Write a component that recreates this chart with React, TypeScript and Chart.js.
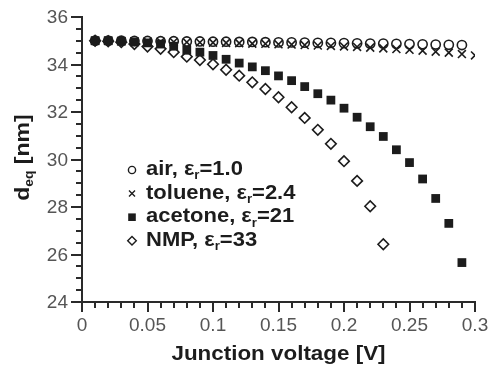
import React, { useEffect, useRef } from 'react';
import { Chart, registerables } from 'chart.js';

Chart.register(...registerables);

// ---- data ----
const voltage = [
  0.01, 0.02, 0.03, 0.04, 0.05, 0.06, 0.07, 0.08, 0.09, 0.1,
  0.11, 0.12, 0.13, 0.14, 0.15, 0.16, 0.17, 0.18, 0.19, 0.2,
  0.21, 0.22, 0.23, 0.24, 0.25, 0.26, 0.27, 0.28, 0.29, 0.3,
];
const airValues = [
  35.0, 35.0, 35.0, 34.99, 34.99, 34.98, 34.98, 34.97, 34.97, 34.96,
  34.96, 34.95, 34.95, 34.94, 34.93, 34.93, 34.92, 34.91, 34.91, 34.9,
  34.89, 34.88, 34.88, 34.87, 34.86, 34.85, 34.84, 34.83, 34.82,
];
const tolueneValues = [
  35.0, 35.0, 34.99, 34.98, 34.97, 34.96, 34.95, 34.94, 34.93, 34.92,
  34.91, 34.9, 34.88, 34.87, 34.85, 34.84, 34.82, 34.8, 34.78, 34.76,
  34.74, 34.71, 34.68, 34.65, 34.62, 34.58, 34.54, 34.5, 34.44, 34.38,
];
const acetoneValues = [
  35.0, 35.0, 34.98, 34.95, 34.91, 34.86, 34.77, 34.6, 34.52, 34.38,
  34.22, 34.06, 33.9, 33.74, 33.52, 33.32, 33.07, 32.77, 32.5, 32.16,
  31.78, 31.38, 30.97, 30.41, 29.87, 29.18, 28.36, 27.31, 25.66,
];
const nmpValues = [
  35.0, 34.98, 34.94, 34.86, 34.76, 34.66, 34.52, 34.33, 34.19, 34.01,
  33.78, 33.53, 33.25, 32.97, 32.62, 32.2, 31.75, 31.25, 30.66, 29.93,
  29.1, 28.03, 26.43,
];
const xTickLabels = ['0', '0.05', '0.1', '0.15', '0.2', '0.25', '0.3'];
const yTickLabels = ['24', '26', '28', '30', '32', '34', '36'];
const seriesNames = ['air', 'toluene', 'acetone', 'NMP'];
const seriesEps = ['1.0', '2.4', '21', '33'];
const xTitle = 'Junction voltage [V]';

const FONT = "'Liberation Sans', Arial, Helvetica, sans-serif";
const INK = '#1c1c1c';

const toPoints = (vals: number[]) => vals.map((v, i) => ({ x: voltage[i], y: v }));

type Run = { t: string; sub?: boolean };

function runsWidth(ctx: CanvasRenderingContext2D, runs: Run[], size: number) {
  let w = 0;
  for (const r of runs) {
    ctx.font = `bold ${r.sub ? Math.round(size * 0.62) : size}px ${FONT}`;
    w += ctx.measureText(r.t).width;
  }
  return w;
}

function drawRuns(ctx: CanvasRenderingContext2D, runs: Run[], x: number, y: number, size: number, sx: number) {
  ctx.save();
  ctx.translate(x, y);
  ctx.scale(sx, 1);
  ctx.textAlign = 'left';
  ctx.textBaseline = 'alphabetic';
  let cx = 0;
  for (const r of runs) {
    const fs = r.sub ? Math.round(size * 0.62) : size;
    ctx.font = `bold ${fs}px ${FONT}`;
    ctx.fillText(r.t, cx, r.sub ? size * 0.22 : 0);
    cx += ctx.measureText(r.t).width;
  }
  ctx.restore();
}

function drawLegendMarker(ctx: CanvasRenderingContext2D, kind: number, x: number, y: number) {
  ctx.save();
  ctx.strokeStyle = INK;
  ctx.fillStyle = INK;
  ctx.lineWidth = 1.4;
  ctx.beginPath();
  if (kind === 0) {
    ctx.arc(x, y, 3.6, 0, Math.PI * 2);
    ctx.stroke();
  } else if (kind === 1) {
    ctx.moveTo(x - 3, y - 3);
    ctx.lineTo(x + 3, y + 3);
    ctx.moveTo(x - 3, y + 3);
    ctx.lineTo(x + 3, y - 3);
    ctx.stroke();
  } else if (kind === 2) {
    ctx.rect(x - 3.8, y - 3.8, 7.6, 7.6);
    ctx.fill();
  } else {
    ctx.moveTo(x, y - 4.3);
    ctx.lineTo(x + 4.3, y);
    ctx.lineTo(x, y + 4.3);
    ctx.lineTo(x - 4.3, y);
    ctx.closePath();
    ctx.stroke();
  }
  ctx.restore();
}

const decorPlugin = {
  id: 'decor',
  afterDraw(chart: any) {
    const ctx: CanvasRenderingContext2D = chart.ctx;
    const xs = chart.scales.x;
    const ys = chart.scales.y;
    const { left, bottom, top, right } = chart.chartArea;
    ctx.save();
    ctx.strokeStyle = '#2a2a2a';
    ctx.lineWidth = 2;
    // tick marks
    xs.ticks.forEach((t: any) => {
      const q = t.value / 0.05;
      const major = Math.abs(q - Math.round(q)) < 1e-6;
      const px = Math.round(xs.getPixelForValue(t.value));
      ctx.beginPath();
      ctx.moveTo(px, bottom);
      ctx.lineTo(px, bottom + (major ? 10 : 6));
      ctx.stroke();
    });
    ys.ticks.forEach((t: any) => {
      const q = t.value / 2;
      const major = Math.abs(q - Math.round(q)) < 1e-6;
      const py = Math.round(ys.getPixelForValue(t.value));
      ctx.beginPath();
      ctx.moveTo(left, py);
      ctx.lineTo(left - (major ? 11 : 6), py);
      ctx.stroke();
    });
    // tick labels
    ctx.fillStyle = '#555';
    ctx.font = `19px ${FONT}`;
    ctx.textAlign = 'center';
    ctx.textBaseline = 'alphabetic';
    xTickLabels.forEach((l) => ctx.fillText(l, xs.getPixelForValue(parseFloat(l)), bottom + 29));
    ctx.textAlign = 'right';
    ctx.textBaseline = 'middle';
    yTickLabels.forEach((l) => ctx.fillText(l, left - 14, ys.getPixelForValue(parseFloat(l)) + 1));

    // axis titles
    ctx.fillStyle = INK;
    const xRuns: Run[] = [{ t: xTitle }];
    const sxX = 1.12;
    const wX = runsWidth(ctx, xRuns, 20) * sxX;
    drawRuns(ctx, xRuns, (left + right) / 2 - wX / 2, bottom + 57.5, 20, sxX);

    const yRuns: Run[] = [{ t: 'd' }, { t: 'eq', sub: true }, { t: ' [nm]' }];
    const sxY = 1.15;
    const wY = runsWidth(ctx, yRuns, 20) * sxY;
    ctx.save();
    ctx.translate(29, (top + bottom) / 2 - 2);
    ctx.rotate(-Math.PI / 2);
    drawRuns(ctx, yRuns, -wY / 2, 0, 20, sxY);
    ctx.restore();

    // legend
    const lx = 132;
    const baseY = 175;
    const step = 23.6;
    seriesNames.forEach((name, i) => {
      const by = baseY + i * step;
      drawLegendMarker(ctx, i, lx, by - 5);
      ctx.fillStyle = INK;
      drawRuns(ctx, [{ t: `${name}, ε` }, { t: 'r', sub: true }, { t: `=${seriesEps[i]}` }], 146, by, 20, 1.1);
    });
    ctx.restore();
  },
};

export default function App() {
  const canvasRef = useRef<HTMLCanvasElement | null>(null);

  useEffect(() => {
    if (!canvasRef.current) return;
    const common = {
      showLine: false,
      borderColor: INK,
      pointBorderColor: INK,
      pointBorderWidth: 1.6,
    };
    const chart = new Chart(canvasRef.current, {
      type: 'scatter',
      data: {
        datasets: [
          {
            ...common,
            label: seriesNames[0],
            data: toPoints(airValues),
            pointStyle: 'circle',
            pointRadius: 4.6,
            pointBackgroundColor: 'rgba(0,0,0,0)',
            backgroundColor: 'rgba(0,0,0,0)',
          },
          {
            ...common,
            label: seriesNames[1],
            data: toPoints(tolueneValues),
            pointStyle: 'crossRot',
            pointRadius: 5.6,
            pointBackgroundColor: 'rgba(0,0,0,0)',
          },
          {
            ...common,
            label: seriesNames[2],
            data: toPoints(acetoneValues),
            pointStyle: 'rect',
            pointRadius: 6.2,
            pointBorderWidth: 0,
            pointBackgroundColor: INK,
            backgroundColor: INK,
          },
          {
            ...common,
            label: seriesNames[3],
            data: toPoints(nmpValues),
            pointStyle: 'rectRot',
            pointRadius: 5.3,
            pointBackgroundColor: 'rgba(0,0,0,0)',
          },
        ],
      } as any,
      options: {
        animation: false,
        responsive: true,
        maintainAspectRatio: false,
        devicePixelRatio: 1,
        layout: { padding: { top: 17, right: 14, bottom: 0, left: 0 } },
        plugins: {
          legend: { display: false },
          tooltip: { enabled: false },
          title: { display: false },
        },
        scales: {
          x: {
            type: 'linear',
            min: 0,
            max: 0.3,
            ticks: { display: false, stepSize: 0.01 },
            grid: { display: false, drawTicks: false },
            border: { display: true, color: '#2a2a2a', width: 2 },
            afterFit: (s: any) => {
              s.height = 68;
            },
          },
          y: {
            type: 'linear',
            min: 24,
            max: 36,
            ticks: { display: false, stepSize: 0.5 },
            grid: { display: false, drawTicks: false },
            border: { display: true, color: '#2a2a2a', width: 2 },
            afterFit: (s: any) => {
              s.width = 82;
            },
          },
        },
      } as any,
      plugins: [decorPlugin],
    });
    return () => chart.destroy();
  }, []);

  return (
    <div style={{ position: 'fixed', left: 0, top: 0, width: 489, height: 370, background: '#fff' }}>
      <canvas ref={canvasRef} />
    </div>
  );
}
